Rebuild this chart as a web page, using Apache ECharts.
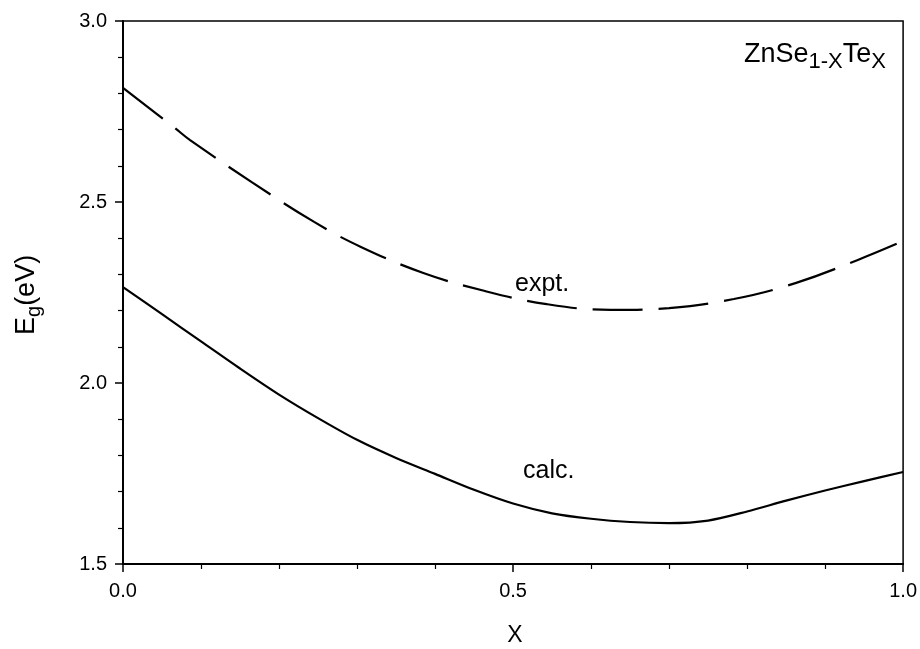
<!DOCTYPE html>
<html>
<head>
<meta charset="utf-8">
<script src="https://cdn.jsdelivr.net/npm/echarts@6/dist/echarts.min.js"></script>
<style>html,body{margin:0;padding:0;background:#fff}#c{width:920px;height:649px}</style>
</head>
<body>
<div id="c"></div>
<script>
const exptX = [0, 0.065, 0.086, 0.165, 0.245, 0.305, 0.385, 0.464, 0.543, 0.625, 0.70, 0.783, 0.862, 0.942, 1.0];
const exptY = [2.815, 2.707, 2.671, 2.555, 2.445, 2.376, 2.304, 2.254, 2.218, 2.202, 2.207, 2.232, 2.276, 2.34, 2.392];
const calcX = [0, 0.05, 0.1, 0.15, 0.2, 0.25, 0.3, 0.35, 0.4, 0.45, 0.5, 0.55, 0.6, 0.65, 0.7, 0.75, 0.8, 0.85, 0.9, 0.95, 1.0];
const calcY = [2.265, 2.19, 2.115, 2.04, 1.968, 1.903, 1.843, 1.793, 1.749, 1.705, 1.667, 1.640, 1.625, 1.616, 1.613, 1.620, 1.645, 1.675, 1.703, 1.729, 1.754];
const xTicks = [0, 0.5, 1.0];
const yTicks = [1.5, 2.0, 2.5, 3.0];

const FONT = '"Liberation Sans", Arial, sans-serif';
const mctx = document.createElement('canvas').getContext('2d');
function measure(t, size) { mctx.font = size + 'px ' + FONT; return mctx.measureText(t).width; }
// pieces: [text, size, baseline offset]; (x, y) is the start point on the baseline
function richLine(pieces, x, y, rotation) {
  let off = 0;
  const children = pieces.map(([t, size, dy]) => {
    const el = {type: 'text', x: off, y: dy - 0.78 * size, style: {text: t, font: size + 'px ' + FONT, fill: '#000', align: 'left', verticalAlign: 'top'}};
    off += measure(t, size);
    return el;
  });
  return {type: 'group', x: x, y: y, rotation: rotation || 0, children: children};
}

const chart = echarts.init(document.getElementById('c'));
const zip = (a, b) => a.map((v, i) => [v, b[i]]);
const axisCommon = {
  axisLine: {show: true, onZero: false, lineStyle: {color: '#000', width: 2}},
  axisTick: {show: true, inside: false, length: 8, lineStyle: {color: '#000', width: 1.5}},
  minorTick: {show: true, splitNumber: 5, length: 5, lineStyle: {color: '#000', width: 1.2}},
  splitLine: {show: false},
  axisLabel: {color: '#000', fontSize: 20, fontFamily: FONT, formatter: v => v.toFixed(1)}
};
chart.setOption({
  backgroundColor: '#fff',
  animation: false,
  grid: {left: 123, right: 15, top: 21, bottom: 85, show: true, borderColor: '#000', borderWidth: 1.5},
  xAxis: Object.assign({}, axisCommon, {
    type: 'value', min: xTicks[0], max: xTicks[xTicks.length - 1], interval: 0.5,
    axisLabel: Object.assign({}, axisCommon.axisLabel, {margin: 17})
  }),
  yAxis: Object.assign({}, axisCommon, {
    type: 'value', min: yTicks[0], max: yTicks[yTicks.length - 1], interval: 0.5,
    axisLabel: Object.assign({}, axisCommon.axisLabel, {margin: 16})
  }),
  series: [
    {type: 'line', data: zip(exptX, exptY), smooth: 0.4, showSymbol: false,
     lineStyle: {color: '#000', width: 2.2, type: [50, 16]}},
    {type: 'line', data: zip(calcX, calcY), smooth: 0.3, showSymbol: false,
     lineStyle: {color: '#000', width: 2.2}}
  ],
  graphic: [
    richLine([['expt.', 25, 0]], 515, 291),
    richLine([['calc.', 25, 0]], 523, 478),
    richLine([['ZnSe', 27, 0], ['1-X', 22, 6], ['Te', 27, 0], ['X', 22, 6]], 744, 62),
    richLine([['E', 27, 0], ['g', 20, 6], ['(eV)', 27, 0]], 34, 335, Math.PI / 2),
    {type: 'text', x: 515, y: 636, style: {text: 'X', font: '23px ' + FONT, fill: '#000', align: 'center', verticalAlign: 'middle'}}
  ]
});
</script>
</body>
</html>
